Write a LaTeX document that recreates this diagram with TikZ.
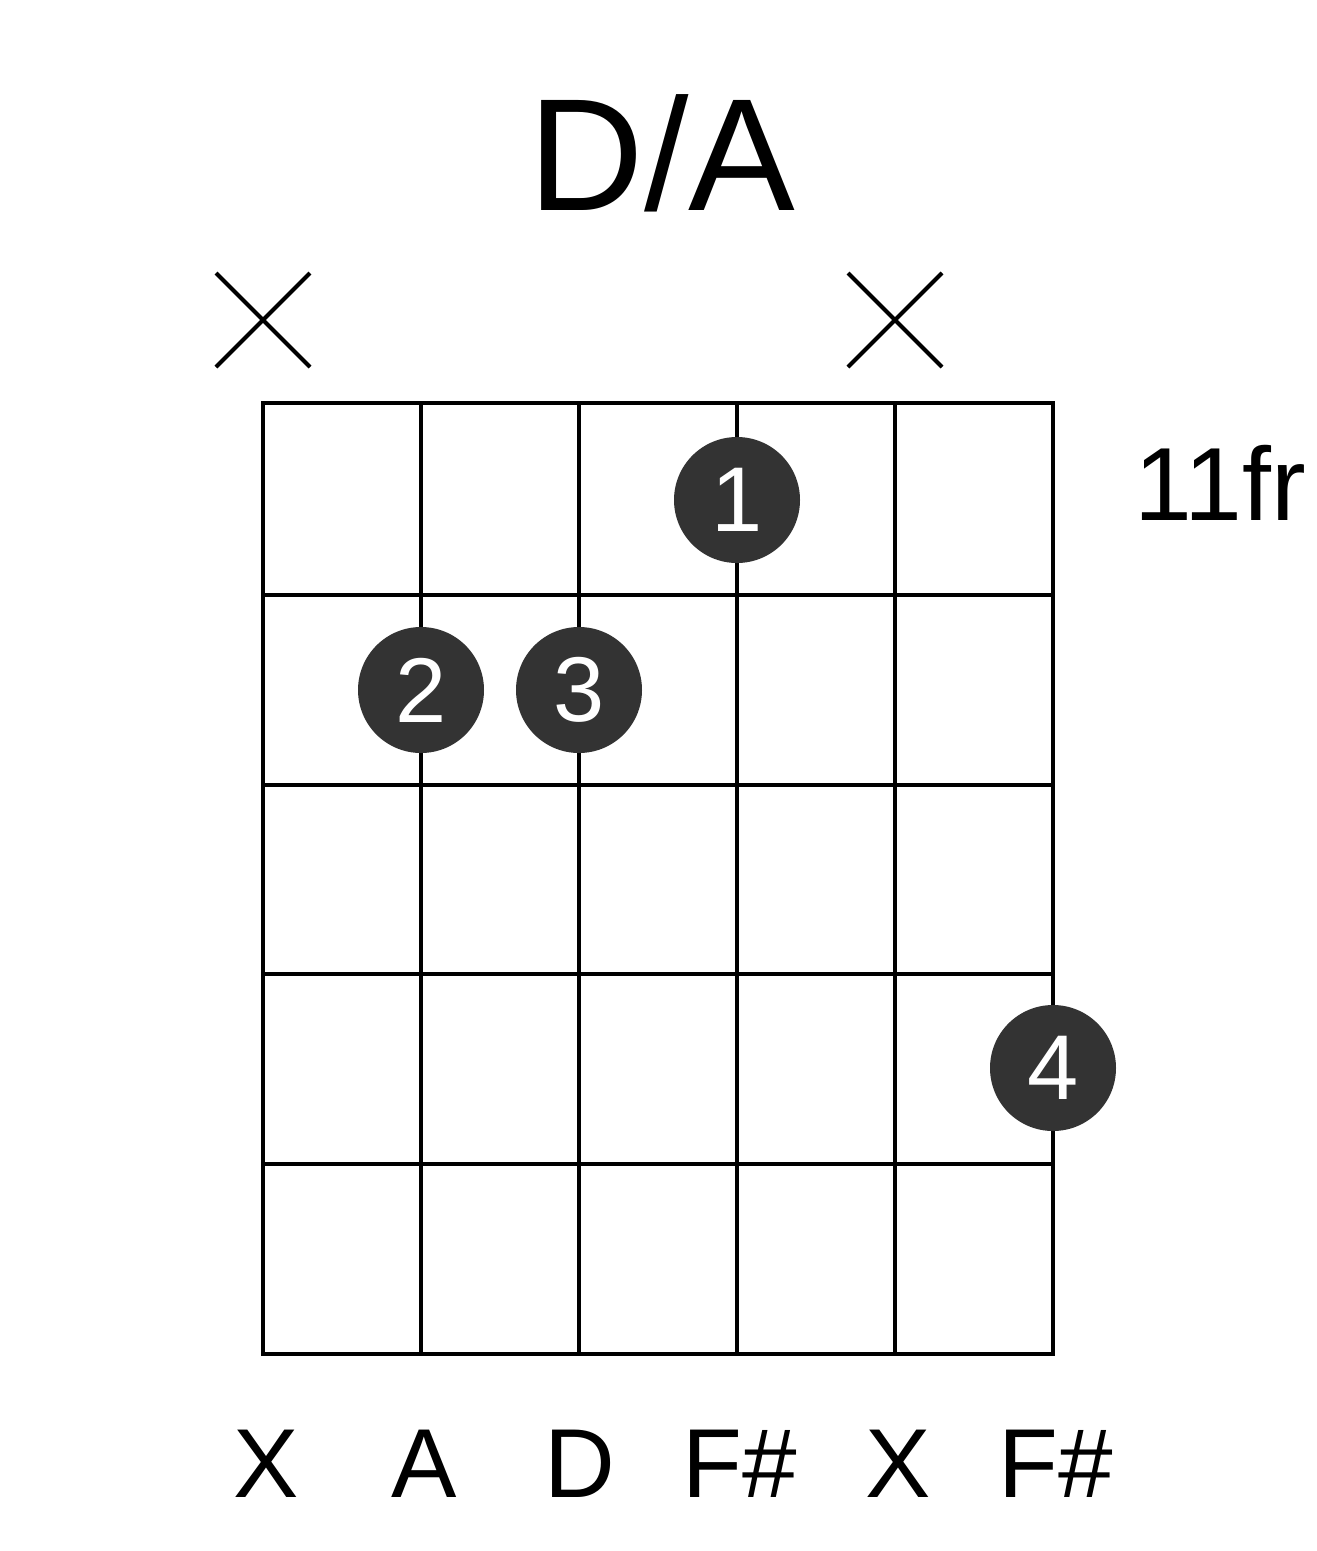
\documentclass[tikz,border=0pt]{standalone}
\usepackage{fontspec}
\setmainfont{Liberation Sans}
\definecolor{dot}{HTML}{333333}
\begin{document}
\begin{tikzpicture}[x=1pt,y=-1pt,
  grid/.style={line width=4pt},
  fdot/.style={circle,fill=dot,minimum size=126pt,inner sep=0pt,text=white,font=\fontsize{92}{92}\selectfont},
  lab/.style={anchor=base,font=\fontsize{98}{98}\selectfont}]
\useasboundingbox (0,0) rectangle (1317,1551);
\foreach \x in {263,421,579,737,895,1053} \draw[grid] (\x,403) -- (\x,1354);
\foreach \y in {403,595,785,974,1164,1354} \draw[grid] (263,\y) -- (1053,\y);
\draw[grid] (261,403) -- (1055,403) (261,1354) -- (1055,1354);
\foreach \c in {263,895} \draw[line width=4pt] (\c-47,273) -- (\c+47,367) (\c-47,367) -- (\c+47,273);
\node[fdot] (d1) at (737,500) {1};
\node[fdot] (d2) at (421,690) {2};
\node[fdot] (d3) at (579,690) {3};
\node[fdot] (d4) at (1053,1068) {4};
\node[anchor=base,font=\fontsize{160}{160}\selectfont] (t) at (662,210) {D/A};
\node[anchor=base,font=\fontsize{104}{104}\selectfont] (fr) at (1220,520) {11fr};
\node[lab] (l1) at (266,1497) {X};
\node[lab] (l2) at (424,1497) {A};
\node[lab] (l3) at (580,1497) {D};
\node[lab] (l4) at (740,1497) {F\#};
\node[lab] (l5) at (898,1497) {X};
\node[lab] (l6) at (1056,1497) {F\#};
\end{tikzpicture}
\end{document}
